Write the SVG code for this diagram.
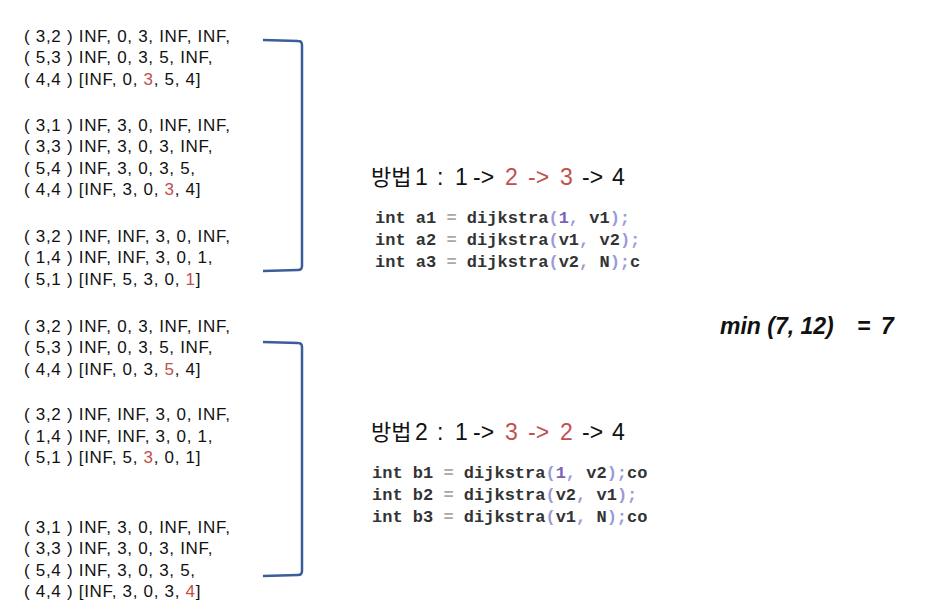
<svg xmlns="http://www.w3.org/2000/svg" width="951" height="615" viewBox="0 0 951 615">
<style>
.t{font-family:"Liberation Sans",Arial,sans-serif;font-size:17px;letter-spacing:0.7px;fill:#111}
.r{fill:#C0504D}
.h{font-family:"Liberation Sans",Arial,sans-serif;font-size:23px;fill:#111}
.k{font-family:"Noto Sans CJK KR",sans-serif;font-size:22px}
.c{font-family:"Liberation Mono","DejaVu Sans Mono",monospace;font-size:17px;font-weight:bold;fill:#333}
.eq{fill:#a8a8a8}
.p{fill:#9a9ad8}
.n{fill:#7a62b8}
.br{fill:none;stroke:#3B5E9A;stroke-width:2.5;stroke-linejoin:round}
.m{font-family:"Liberation Sans",Arial,sans-serif;font-size:23px;font-style:italic;font-weight:bold;fill:#111}
</style>
<defs>
<clipPath id="clipB"><rect x="360" y="455" width="301" height="80"/></clipPath>
</defs>
<rect width="951" height="615" fill="#fff"/>
<g id="block1">
<text class="t" x="24" y="41.5">( 3,2 ) INF, 0, 3, INF, INF,</text>
<text class="t" x="24" y="63">( 5,3 ) INF, 0, 3, 5, INF,</text>
<text class="t" x="24" y="84.5">( 4,4 ) [INF, 0, <tspan class="r">3</tspan>, 5, 4]</text>
<text class="t" x="24" y="130.5">( 3,1 ) INF, 3, 0, INF, INF,</text>
<text class="t" x="24" y="152">( 3,3 ) INF, 3, 0, 3, INF,</text>
<text class="t" x="24" y="173.5">( 5,4 ) INF, 3, 0, 3, 5,</text>
<text class="t" x="24" y="195">( 4,4 ) [INF, 3, 0, <tspan class="r">3</tspan>, 4]</text>
<text class="t" x="24" y="241.5">( 3,2 ) INF, INF, 3, 0, INF,</text>
<text class="t" x="24" y="263">( 1,4 ) INF, INF, 3, 0, 1,</text>
<text class="t" x="24" y="284.5">( 5,1 ) [INF, 5, 3, 0, <tspan class="r">1</tspan>]</text>
</g>
<g id="block2">
<text class="t" x="24" y="331.5">( 3,2 ) INF, 0, 3, INF, INF,</text>
<text class="t" x="24" y="353">( 5,3 ) INF, 0, 3, 5, INF,</text>
<text class="t" x="24" y="374.5">( 4,4 ) [INF, 0, 3, <tspan class="r">5</tspan>, 4]</text>
<text class="t" x="24" y="420">( 3,2 ) INF, INF, 3, 0, INF,</text>
<text class="t" x="24" y="441.5">( 1,4 ) INF, INF, 3, 0, 1,</text>
<text class="t" x="24" y="463">( 5,1 ) [INF, 5, <tspan class="r">3</tspan>, 0, 1]</text>
<text class="t" x="24" y="532.5">( 3,1 ) INF, 3, 0, INF, INF,</text>
<text class="t" x="24" y="554">( 3,3 ) INF, 3, 0, 3, INF,</text>
<text class="t" x="24" y="575.5">( 5,4 ) INF, 3, 0, 3, 5,</text>
<text class="t" x="24" y="597">( 4,4 ) [INF, 3, 0, 3, <tspan class="r">4</tspan>]</text>
</g>
<g id="connectors">
<path class="br" d="M263,40 L298,41 Q302,41 302,45 L302,266 Q302,270 298,270 L263,271"/>
<path class="br" d="M263,342 L298,343 Q302,343 302,347 L302,571 Q302,575 298,575 L263,576"/>
</g>
<g id="method1">
<text class="h" y="185"><tspan class="k" x="371">방법</tspan><tspan x="415">1</tspan><tspan x="437">:</tspan><tspan x="455">1</tspan><tspan x="473">-&gt;</tspan><tspan class="r" x="505">2</tspan><tspan class="r" x="528">-&gt;</tspan><tspan class="r" x="560">3</tspan><tspan x="582">-&gt;</tspan><tspan x="612">4</tspan></text>
<text class="c" x="375" y="223">int a1 <tspan class="eq">=</tspan> dijkstra<tspan class="p">(</tspan><tspan class="n">1</tspan><tspan class="p">,</tspan> v1<tspan class="p">);</tspan></text>
<text class="c" x="375" y="245">int a2 <tspan class="eq">=</tspan> dijkstra<tspan class="p">(</tspan>v1<tspan class="p">,</tspan> v2<tspan class="p">);</tspan></text>
<text class="c" x="375" y="267">int a3 <tspan class="eq">=</tspan> dijkstra<tspan class="p">(</tspan>v2<tspan class="p">,</tspan> N<tspan class="p">);</tspan>c</text>
</g>
<g id="method2">
<text class="h" y="440"><tspan class="k" x="371">방법</tspan><tspan x="415">2</tspan><tspan x="437">:</tspan><tspan x="455">1</tspan><tspan x="473">-&gt;</tspan><tspan class="r" x="505">3</tspan><tspan class="r" x="528">-&gt;</tspan><tspan class="r" x="560">2</tspan><tspan x="582">-&gt;</tspan><tspan x="612">4</tspan></text>
<g clip-path="url(#clipB)">
<text class="c" x="372" y="478">int b1 <tspan class="eq">=</tspan> dijkstra<tspan class="p">(</tspan><tspan class="n">1</tspan><tspan class="p">,</tspan> v2<tspan class="p">);</tspan>co</text>
<text class="c" x="372" y="500">int b2 <tspan class="eq">=</tspan> dijkstra<tspan class="p">(</tspan>v2<tspan class="p">,</tspan> v1<tspan class="p">);</tspan></text>
<text class="c" x="372" y="522">int b3 <tspan class="eq">=</tspan> dijkstra<tspan class="p">(</tspan>v1<tspan class="p">,</tspan> N<tspan class="p">);</tspan>co</text>
</g>
</g>
<g id="result">
<text class="m" x="720" y="334">min (7, 12)</text>
<text class="m" x="857" y="334">=</text>
<text class="m" x="881" y="334">7</text>
</g>
</svg>
